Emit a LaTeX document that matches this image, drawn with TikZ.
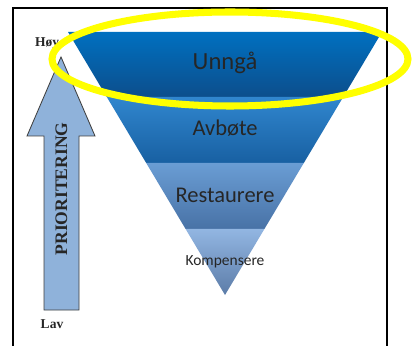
\documentclass[tikz,border=0pt]{standalone}
\usepackage{fontspec}
\setmainfont{Liberation Serif}
\newfontfamily\carlito{Carlito}
\usepackage{tikz}

\definecolor{unngaTop}{RGB}{0,112,192}
\definecolor{unngaBot}{RGB}{12,78,140}
\definecolor{avboteTop}{RGB}{48,134,206}
\definecolor{avboteBot}{RGB}{24,96,162}
\definecolor{restTop}{RGB}{106,157,212}
\definecolor{restBot}{RGB}{72,114,166}
\definecolor{kompTop}{RGB}{146,182,226}
\definecolor{kompBot}{RGB}{92,124,168}
\definecolor{arrowblue}{RGB}{143,178,218}
\definecolor{ringyellow}{RGB}{255,255,0}

\begin{document}
\begin{tikzpicture}[x=0.025cm,y=-0.025cm]
\useasboundingbox (0,0) rectangle (412,346);
\fill[white] (0,0) rectangle (412,346);
\draw[line width=1.4pt] (13,346) -- (13,8) -- (387,8) -- (387,346);

% funnel corners
\coordinate (A) at (68,32);
\coordinate (B) at (382,32);
\coordinate (C) at (106.8,97);
\coordinate (D) at (343.2,97);
\coordinate (E) at (146.2,163);
\coordinate (F) at (303.8,163);
\coordinate (G) at (185.6,229);
\coordinate (H) at (264.4,229);
\coordinate (I) at (225,295);

\begin{scope}[every path/.style={draw=none}]
    \path[top color=unngaTop, bottom color=unngaBot] (A) -- (B) -- (D) -- (C) -- cycle;
    \path[top color=avboteTop, bottom color=avboteBot] (C) -- (D) -- (F) -- (E) -- cycle;
    \path[top color=restTop, bottom color=restBot] (E) -- (F) -- (H) -- (G) -- cycle;
    \path[top color=kompTop, bottom color=kompBot] (G) -- (H) -- (I) -- cycle;
\end{scope}

\begin{scope}[every node/.style={font=\carlito\fontsize{16}{18}\selectfont, text=black!85}]
    \node (U) at (225,63) [font=\carlito\fontsize{17.5}{20}\selectfont] {Unngå};
    \node (V) at (225,128) {Avbøte};
    \node (R) at (225,195) {Restaurere};
    \node[font=\carlito\fontsize{11}{13}\selectfont] (K) at (225,262) {Kompensere};
\end{scope}

% prioritet
\draw[draw=black!75, fill=arrowblue, line width=0.6pt]
    (44,310) -- (44,136) -- (27,136) -- (61,57) -- (95,136) -- (79,136) -- (79,310) -- cycle;
\begin{scope}[every node/.style={font=\bfseries\fontsize{9.6}{11}\selectfont, text=black!85}]
    \node (P) at (61.5,189) [rotate=90, font=\bfseries\fontsize{12.5}{14}\selectfont] {PRIORITERING};
    \node (Hi) at (47,44) {Høy};
    \node (Lo) at (52,324) {Lav};
\end{scope}

\draw[ringyellow, line width=5pt] (230,59) ellipse [x radius=178, y radius=47];
\end{tikzpicture}
\end{document}
